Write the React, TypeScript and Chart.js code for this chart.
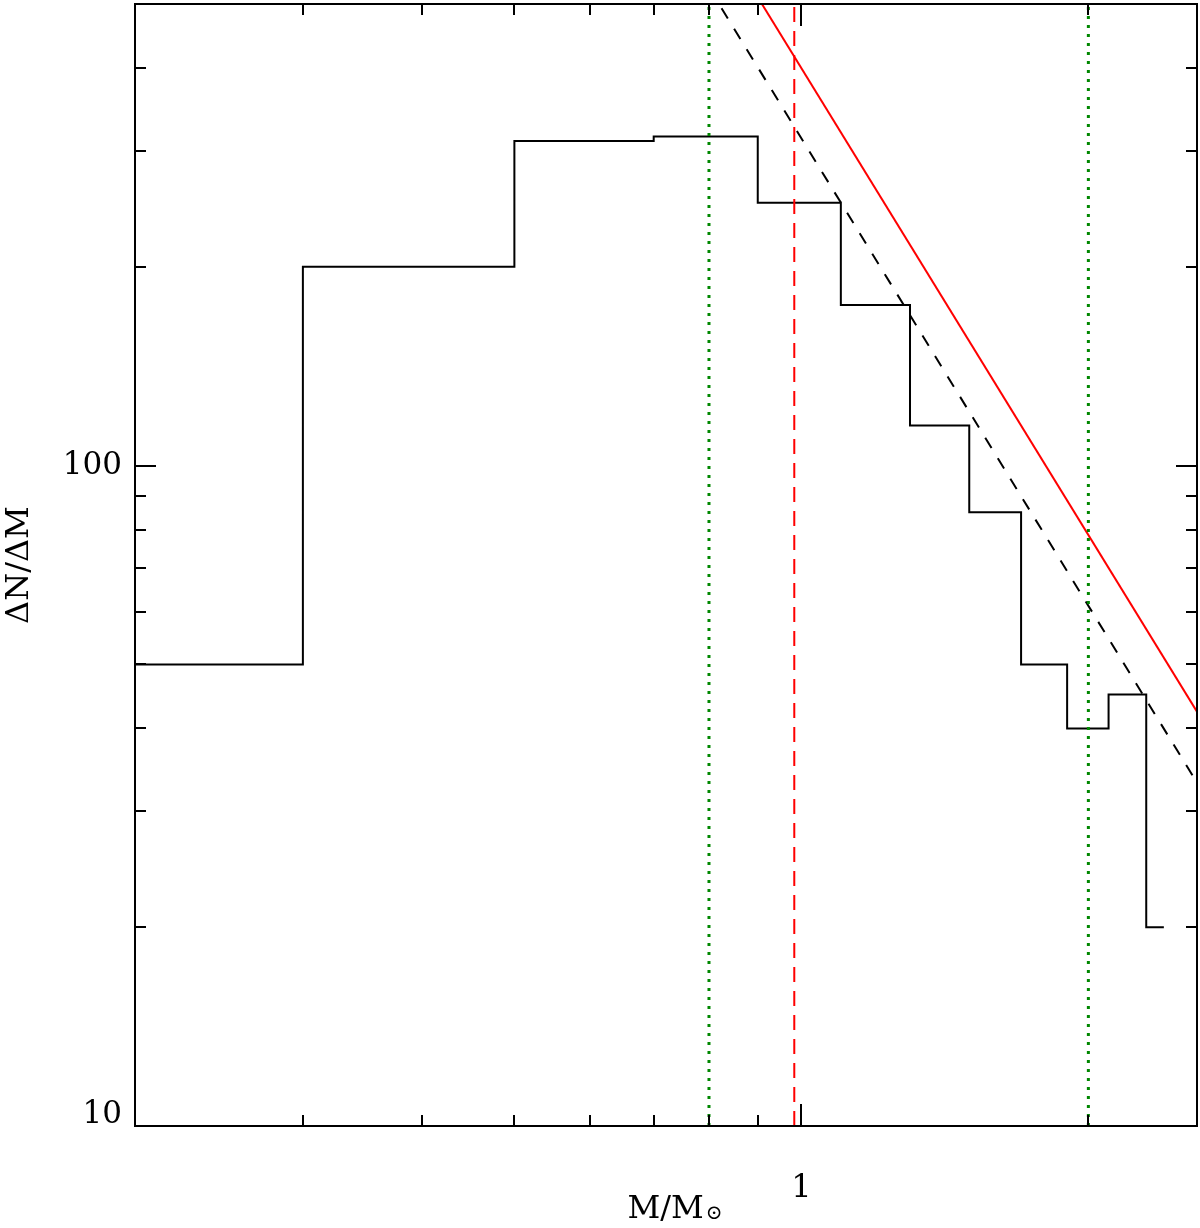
import React, { useEffect, useRef } from 'react';
import { Chart, registerables } from 'chart.js';

Chart.register(...registerables);

// ---- data ----
const binCenters = [0.2, 0.4, 0.6, 0.8, 1.0, 1.2, 1.4, 1.6, 1.8, 2.0, 2.2, 2.4];
const binValues = [50, 200, 310, 315, 250, 175, 115, 85, 50, 40, 45, 20];

const redFitX = [0.9, 2.6];
const redFitY = [512, 42.4];
const blackFitX = [0.8, 2.6];
const blackFitY = [529, 33.1];

const greenLimitsX = [0.8, 2.0];
const redMarkX = [0.983];

const xRange = [0.2, 2.6];
const yRange = [10, 500];

const xMinorTicks = [0.3, 0.4, 0.5, 0.6, 0.7, 0.8, 0.9, 2];
const xMajorTicks = [1];
const yMinorTicks = [20, 30, 40, 50, 60, 70, 80, 90, 200, 300, 400];
const yMajorTicks = [10, 100];
const xTickLabels = ['1'];
const yTickLabels = ['10', '100'];

const FONT = "'DejaVu Serif', 'Liberation Serif', serif";

function stepPoints(xs: number[], ys: number[]) {
  const pts: { x: number; y: number }[] = [];
  const n = xs.length;
  for (let i = 0; i < n; i++) {
    const l = i === 0 ? xs[0] : (xs[i - 1] + xs[i]) / 2;
    const r = i === n - 1 ? xs[i] : (xs[i] + xs[i + 1]) / 2;
    pts.push({ x: l, y: ys[i] }, { x: r, y: ys[i] });
  }
  return pts;
}

function pair(xs: number[], ys: number[]) {
  return xs.map((x, i) => ({ x, y: ys[i] }));
}

function vline(x: number) {
  return [
    { x, y: yRange[0] },
    { x, y: yRange[1] },
  ];
}

const frameTicks = {
  id: 'frameTicks',
  afterDatasetsDraw(chart: any) {
    const { ctx, chartArea, scales } = chart;
    const { left, right, top, bottom } = chartArea;
    const xs = scales.x;
    const ys = scales.y;
    ctx.save();
    ctx.strokeStyle = '#000';
    ctx.lineWidth = 2;
    ctx.lineCap = 'butt';
    ctx.strokeRect(left, top, right - left, bottom - top);
    const seg = (x1: number, y1: number, x2: number, y2: number) => {
      ctx.beginPath();
      ctx.moveTo(x1, y1);
      ctx.lineTo(x2, y2);
      ctx.stroke();
    };
    const xt = (v: number, len: number) => {
      const p = Math.round(xs.getPixelForValue(v));
      seg(p, bottom, p, bottom - len);
      seg(p, top, p, top + len);
    };
    const yt = (v: number, len: number) => {
      const p = Math.round(ys.getPixelForValue(v));
      seg(left, p, left + len, p);
      seg(right, p, right - len, p);
    };
    xMinorTicks.forEach((v) => xt(v, 11));
    xMajorTicks.forEach((v) => xt(v, 22));
    yMinorTicks.forEach((v) => yt(v, 11));
    yMajorTicks.forEach((v) => yt(v, 21));

    // axis titles
    ctx.fillStyle = '#000';
    ctx.font = `32px ${FONT}`;
    ctx.textBaseline = 'alphabetic';
    const main = 'M/M';
    const sub = '\u2299';
    const wMain = ctx.measureText(main).width;
    ctx.font = `20px ${FONT}`;
    const wSub = ctx.measureText(sub).width;
    const cx = (left + right) / 2 + 9;
    const x0 = cx - (wMain + wSub + 2) / 2;
    ctx.font = `32px ${FONT}`;
    ctx.textAlign = 'left';
    ctx.fillText(main, x0, 1218);
    ctx.font = `20px ${FONT}`;
    ctx.fillText(sub, x0 + wMain + 2, 1219);

    ctx.translate(20, (top + bottom) / 2);
    ctx.rotate(-Math.PI / 2);
    ctx.font = `32px ${FONT}`;
    ctx.textAlign = 'center';
    ctx.textBaseline = 'middle';
    ctx.fillText('\u0394N/\u0394M', 0, 0);
    ctx.restore();
  },
};

export default function App() {
  const ref = useRef<HTMLCanvasElement | null>(null);
  useEffect(() => {
    if (!ref.current) return;
    const green = 'rgb(0,135,0)';
    const chart = new Chart(ref.current, {
      type: 'line',
      data: {
        datasets: [
          {
            data: vline(greenLimitsX[0]),
            borderColor: green,
            borderWidth: 3,
            borderDash: [3, 6],
            pointRadius: 0,
          },
          {
            data: vline(greenLimitsX[1]),
            borderColor: green,
            borderWidth: 3,
            borderDash: [3, 6],
            pointRadius: 0,
          },
          {
            data: vline(redMarkX[0]),
            borderColor: 'rgb(255,0,0)',
            borderWidth: 2,
            borderDash: [15, 9],
            pointRadius: 0,
          },
          {
            data: stepPoints(binCenters, binValues),
            borderColor: '#000',
            borderWidth: 2,
            pointRadius: 0,
          },
          {
            data: pair(blackFitX, blackFitY),
            borderColor: '#000',
            borderWidth: 2,
            borderDash: [12, 12],
            pointRadius: 0,
          },
          {
            data: pair(redFitX, redFitY),
            borderColor: 'rgb(255,0,0)',
            borderWidth: 2,
            pointRadius: 0,
          },
        ],
      },
      options: {
        animation: false,
        responsive: false,
        devicePixelRatio: 1,
        events: [],
        layout: { padding: { top: 4, right: 3, left: 0, bottom: 0 } },
        plugins: { legend: { display: false }, tooltip: { enabled: false } },
        scales: {
          x: {
            type: 'logarithmic',
            min: xRange[0],
            max: xRange[1],
            grid: { display: false },
            border: { display: false },
            afterBuildTicks: (s: any) => {
              s.ticks = xMajorTicks.map((v) => ({ value: v }));
            },
            afterFit: (s: any) => {
              s.height = 102;
              s.paddingLeft = 0;
              s.paddingRight = 0;
            },
            ticks: {
              autoSkip: false,
              maxRotation: 0,
              padding: 35,
              color: '#000',
              font: { family: FONT, size: 32 },
              callback: (v: any) => {
                const i = xMajorTicks.indexOf(Number(v));
                return i >= 0 ? xTickLabels[i] : '';
              },
            },
          },
          y: {
            type: 'logarithmic',
            min: yRange[0],
            max: yRange[1],
            grid: { display: false },
            border: { display: false },
            afterBuildTicks: (s: any) => {
              s.ticks = yMajorTicks.map((v) => ({ value: v }));
            },
            afterFit: (s: any) => {
              s.width = 135;
              s.paddingTop = 0;
              s.paddingBottom = 0;
            },
            ticks: {
              autoSkip: false,
              padding: 5,
              color: '#000',
              font: { family: FONT, size: 31, lineHeight: '22px' },
              callback: (v: any) => {
                const i = yMajorTicks.indexOf(Number(v));
                if (i < 0) return '';
                return i === 0 ? [yTickLabels[i], ''] : yTickLabels[i];
              },
            },
          },
        },
      },
      plugins: [frameTicks],
    } as any);
    return () => chart.destroy();
  }, []);
  return (
    <div style={{ position: 'fixed', left: 0, top: 0, width: 1200, height: 1228, background: '#fff' }}>
      <canvas ref={ref} width={1200} height={1228} />
    </div>
  );
}
